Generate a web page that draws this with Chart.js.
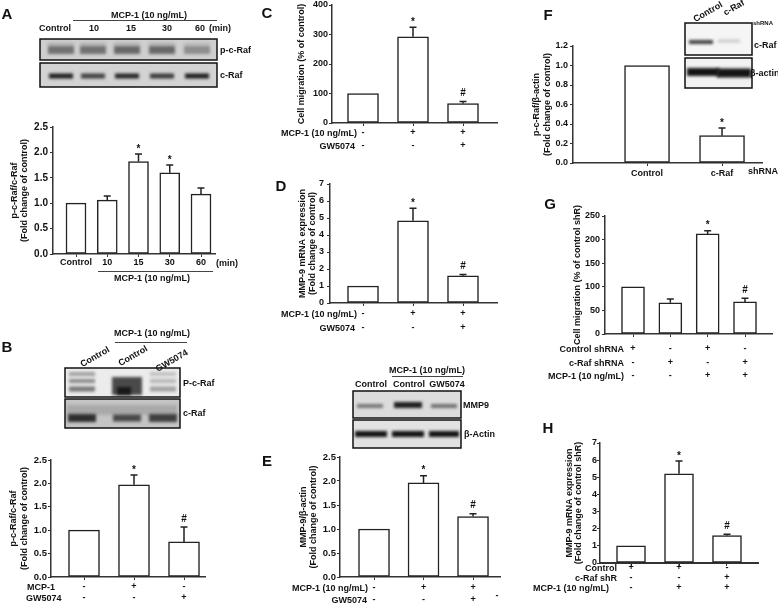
<!DOCTYPE html>
<html>
<head>
<meta charset="utf-8">
<script src="https://cdn.jsdelivr.net/npm/chart.js@4.4.1/dist/chart.umd.min.js"></script>
<style>
  html, body { margin: 0; padding: 0; background: #fff; }
  #fig { position: relative; width: 778px; height: 606px; overflow: hidden; }
  #fig canvas { position: absolute; }
  .lbl { position: absolute; white-space: nowrap; font-family: 'Liberation Sans', Arial, sans-serif;
         font-weight: bold; line-height: 1; color: #111; }
  .hl { position: absolute; height: 0; border-top: 1.5px solid #444; }
</style>
</head>
<body>
<div id="fig"></div>
<script>
// ---- data ----
const aLabels = ['Control', '10', '15', '30', '60'];
const aValues = [1.0, 1.06, 1.82, 1.60, 1.18];
const aErrors = [0, 0.08, 0.15, 0.15, 0.12];
const aMarks = ['', '', '*', '*', ''];

const bLabels = [['-', '-'], ['+', '-'], ['-', '+']];
const bValues = [1.0, 1.97, 0.75];
const bErrors = [0, 0.21, 0.32];
const bMarks = ['', '*', '#'];

const gwLabels = [['-', '-'], ['+', '-'], ['+', '+']];   // MCP-1 / GW5074 rows (C, D, E)

const cValues = [100, 292, 66];
const cErrors = [0, 33, 7];
const cMarks = ['', '*', '#'];

const dValues = [1.0, 4.84, 1.6];
const dErrors = [0, 0.74, 0.08];
const dMarks = ['', '*', '#'];

const eValues = [1.0, 1.96, 1.26];
const eErrors = [0, 0.15, 0.06];
const eMarks = ['', '*', '#'];

const fLabels = ['Control', 'c-Raf'];
const fValues = [1.0, 0.28];
const fErrors = [0, 0.08];
const fMarks = ['', '*'];

const gLabels = [['+', '-', '-'], ['-', '+', '-'], ['+', '-', '+'], ['-', '+', '+']];
const gValues = [100, 66, 212, 68];
const gErrors = [0, 8, 7, 8];
const gMarks = ['', '', '*', '#'];

const hLabels = [['+', '-', '-'], ['+', '-', '+'], ['-', '+', '+']];
const hValues = [1.0, 5.2, 1.6];
const hErrors = [0, 0.75, 0.08];
const hMarks = ['', '*', '#'];

const FONT = "'Liberation Sans', Arial, sans-serif";
Chart.defaults.font.family = FONT;
Chart.defaults.font.weight = 'bold';
Chart.defaults.color = '#111';

const fig = document.getElementById('fig');

// ---- little html helpers for the non-chart text ----
function label(text, x, y, opt = {}) {
    const d = document.createElement('div');
    d.className = 'lbl';
    d.textContent = text;
    d.style.left = x + 'px';
    d.style.top = y + 'px';
    d.style.fontSize = (opt.size || 9) + 'px';
    const ax = opt.align === 'right' ? '-100%' : opt.align === 'left' ? '0' : '-50%';
    d.style.transform = `translate(${ax}, -50%)` + (opt.rot ? ` rotate(${opt.rot}deg)` : '');
    fig.appendChild(d);
}
function hline(x1, x2, y) {
    const d = document.createElement('div');
    d.className = 'hl';
    d.style.left = x1 + 'px';
    d.style.top = y + 'px';
    d.style.width = (x2 - x1) + 'px';
    fig.appendChild(d);
}

// error bars (upper half only) + significance marks
const errorBars = {
    id: 'errorBars',
    afterDatasetsDraw(chart) {
        const ctx = chart.ctx;
        const ds = chart.data.datasets[0];
        const meta = chart.getDatasetMeta(0);
        const y = chart.scales.y;
        ctx.save();
        ctx.strokeStyle = '#222';
        ctx.lineWidth = 1.5;
        ctx.fillStyle = '#111';
        ctx.font = 'bold 10px ' + FONT;
        ctx.textAlign = 'center';
        ctx.textBaseline = 'middle';
        meta.data.forEach((bar, i) => {
            const v = ds.data[i].y, e = ds.errors[i];
            let top = y.getPixelForValue(v);
            if (e) {
                const ye = y.getPixelForValue(v + e);
                ctx.beginPath();
                ctx.moveTo(bar.x, top); ctx.lineTo(bar.x, ye);
                ctx.moveTo(bar.x - 3.5, ye); ctx.lineTo(bar.x + 3.5, ye);
                ctx.stroke();
                top = ye;
            }
            if (ds.marks[i]) ctx.fillText(ds.marks[i], bar.x, top - (ds.marks[i] === '*' ? 5 : 8));
        });
        ctx.restore();
    }
};

// box = canvas rect, plot = axis positions in page px
function panel(box, plot, cfg) {
    const c = document.createElement('canvas');
    c.width = box.w; c.height = box.h;
    c.style.left = box.l + 'px';
    c.style.top = box.t + 'px';
    fig.appendChild(c);
    const lh = cfg.titleLH;
    return new Chart(c, {
        type: 'bar',
        data: {
            datasets: [{
                data: cfg.values.map((v, i) => ({ x: i, y: v })),
                errors: cfg.errors,
                marks: cfg.marks,
                backgroundColor: '#fff',
                borderColor: '#222',
                borderWidth: 1.5,
                borderSkipped: false,
                barThickness: cfg.barW
            }]
        },
        options: {
            responsive: false, animation: false, events: [],
            layout: { padding: { left: 0, top: plot.yTop - box.t, right: box.l + box.w - plot.x1, bottom: 0 } },
            plugins: { legend: { display: false }, tooltip: { enabled: false } },
            scales: {
                x: {
                    type: 'linear', min: cfg.xMin, max: cfg.xMax, offset: false,
                    afterBuildTicks: s => { s.ticks = cfg.labels.map((_, i) => ({ value: i })); },
                    afterFit: s => { s.height = box.t + box.h - plot.yBot; s.paddingLeft = 0; s.paddingRight = 0; },
                    ticks: {
                        autoSkip: false, maxRotation: 0,
                        callback: v => cfg.labels[v],
                        font: { size: 9, lineHeight: cfg.rowLH + 'px' },
                        padding: cfg.rowPad
                    },
                    grid: { drawOnChartArea: false, offset: false, tickLength: 3, color: '#333' },
                    border: { color: '#333', width: cfg.xBorder || 1.5 }
                },
                y: {
                    min: 0, max: cfg.yMax,
                    afterFit: s => { s.width = plot.x0 - box.l; s.paddingTop = 0; s.paddingBottom = 0; },
                    ticks: { stepSize: cfg.step, callback: v => v.toFixed(cfg.dec), font: { size: cfg.tickSize || 9 }, padding: cfg.tickPad },
                    grid: { drawOnChartArea: false, tickLength: 3, color: '#333' },
                    border: { color: '#333', width: 1.5 },
                    title: {
                        display: true, text: cfg.title,
                        font: { size: 9, lineHeight: lh + 'px' },
                        padding: { top: cfg.titleX - box.l - lh / 2, bottom: 0 }
                    }
                }
            }
        },
        plugins: [errorBars]
    });
}

// ---- charts ----
panel({ l: 0, t: 112, w: 250, h: 178 }, { x0: 53, x1: 215, yTop: 127, yBot: 254 }, {
    labels: aLabels, values: aValues, errors: aErrors, marks: aMarks,
    xMin: -0.736, xMax: 4.448, barW: 20, yMax: 2.5, step: 0.5, dec: 1, tickPad: 2, tickSize: 10,
    title: ['p-c-Raf/c-Raf', '(Fold change of control)'], titleX: 15, titleLH: 10,
    rowLH: 11, rowPad: 0.5
});
panel({ l: 0, t: 446, w: 250, h: 160 }, { x0: 51, x1: 205, yTop: 460, yBot: 577 }, {
    labels: bLabels, values: bValues, errors: bErrors, marks: bMarks,
    xMin: -0.66, xMax: 2.42, barW: 31, yMax: 2.5, step: 0.5, dec: 1, tickPad: 1, tickSize: 9.5,
    title: ['p-c-Raf/c-Raf', '(Fold change of control)'], titleX: 14, titleLH: 11,
    rowLH: 11, rowPad: 1.5
});
panel({ l: 250, t: 0, w: 260, h: 156 }, { x0: 332, x1: 497, yTop: 5, yBot: 123 }, {
    labels: gwLabels, values: cValues, errors: cErrors, marks: cMarks,
    xMin: -0.62, xMax: 2.68, barW: 31, yMax: 400, step: 100, dec: 0, tickPad: 1,
    title: 'Cell migration (% of control)', titleX: 302, titleLH: 10,
    rowLH: 13, rowPad: 0.5
});
panel({ l: 250, t: 170, w: 260, h: 165 }, { x0: 330, x1: 497, yTop: 184, yBot: 303 }, {
    labels: gwLabels, values: dValues, errors: dErrors, marks: dMarks,
    xMin: -0.66, xMax: 2.68, barW: 31, yMax: 7, step: 1, dec: 0, tickPad: 3,
    title: ['MMP-9 mRNA expression', '(Fold change of control)'], titleX: 303, titleLH: 9.5,
    rowLH: 14, rowPad: 1
});
panel({ l: 250, t: 440, w: 260, h: 166 }, { x0: 340, x1: 500, yTop: 457, yBot: 577 }, {
    labels: gwLabels, values: eValues, errors: eErrors, marks: eMarks,
    xMin: -0.687, xMax: 2.545, barW: 31, yMax: 2.5, step: 0.5, dec: 1, tickPad: 1, tickSize: 9.5,
    title: ['MMP-9/\u03b2-actin', '(Fold change of control)'], titleX: 304, titleLH: 9.5,
    rowLH: 12, rowPad: 2
});
panel({ l: 510, t: 30, w: 268, h: 155 }, { x0: 573, x1: 762, yTop: 46, yBot: 163 }, {
    labels: fLabels, values: fValues, errors: fErrors, marks: fMarks,
    xMin: -0.987, xMax: 1.533, barW: 45, yMax: 1.2, step: 0.2, dec: 1, tickPad: 2,
    title: ['p-c-Raf/\u03b2-actin', '(Fold change of control)'], titleX: 537, titleLH: 11,
    rowLH: 11, rowPad: 2.5
});
panel({ l: 510, t: 200, w: 268, h: 185 }, { x0: 605, x1: 772, yTop: 216, yBot: 334 }, {
    labels: gLabels, values: gValues, errors: gErrors, marks: gMarks,
    xMin: -0.75, xMax: 3.723, barW: 23, yMax: 250, step: 50, dec: 0, tickPad: 2,
    title: 'Cell migration (% of control shR)', titleX: 578, titleLH: 10,
    rowLH: 13.5, rowPad: 5
});
panel({ l: 510, t: 430, w: 268, h: 176 }, { x0: 600, x1: 758, yTop: 443, yBot: 563 }, {
    labels: hLabels, values: hValues, errors: hErrors, marks: hMarks,
    xMin: -0.646, xMax: 2.646, barW: 29, yMax: 7, step: 1, dec: 0, tickPad: 0,
    title: ['MMP-9 mRNA expression', '(Fold change of control shR)'], titleX: 570, titleLH: 9,
    rowLH: 10, rowPad: -3, xBorder: 2
});

// ---- western blot insets (decoration) ----
const blots = [
    { x: 40, y: 39, w: 177, h: 21, bg: '#cfcfcf', bands: [
        [61, 50, 26, 8, .5], [93, 50, 26, 8, .5], [127, 50, 26, 8, .55], [162, 50, 26, 8, .55], [197, 50, 26, 8, .35],
        [61, 44, 26, 3, .15], [93, 44, 26, 3, .15], [127, 44, 26, 3, .15], [162, 44, 26, 3, .15], [197, 44, 26, 3, .1]] },
    { x: 40, y: 63, w: 177, h: 24, bg: '#d3d3d3', bands: [
        [61, 76, 24, 5, .95], [93, 76, 24, 5, .75], [127, 76, 24, 5, .9], [162, 76, 24, 5, .8], [197, 76, 24, 5, .95]] },
    { x: 65, y: 368, w: 115, h: 29, bg: '#ececec', bands: [
        [82, 374, 26, 4, .35], [82, 381, 26, 4, .45], [82, 389, 26, 5, .55],
        [127, 386, 30, 18, .75], [124, 391, 14, 8, .9],
        [163, 374, 26, 4, .2], [163, 381, 26, 4, .25], [163, 389, 26, 5, .35]] },
    { x: 65, y: 399, w: 115, h: 29, bg: '#c4c4c4', bands: [
        [122, 410, 110, 10, .15], [82, 418, 28, 8, .85], [127, 418, 28, 7, .7], [163, 418, 28, 8, .75]] },
    { x: 353, y: 391, w: 108, h: 27, bg: '#dcdcdc', bands: [
        [370, 406, 26, 4, .5], [408, 405, 28, 6, .95], [444, 406, 26, 4, .55]] },
    { x: 353, y: 420, w: 108, h: 28, bg: '#e2e2e2', bands: [
        [371, 434, 32, 6, 1], [408, 434, 32, 6, 1], [444, 434, 30, 6, 1]] },
    { x: 685, y: 23, w: 67, h: 32, bg: '#f5f5f5', bands: [
        [701, 42, 24, 4, .8], [729, 41, 22, 3, .2]] },
    { x: 685, y: 58, w: 67, h: 30, bg: '#f2f2f2', bands: [
        [703, 72, 32, 8, 1], [734, 73, 34, 9, 1]] }
];
const bc = document.createElement('canvas');
bc.width = 778; bc.height = 606;
bc.style.left = '0px'; bc.style.top = '0px';
fig.appendChild(bc);
const bctx = bc.getContext('2d');
blots.forEach(b => {
    bctx.save();
    bctx.fillStyle = b.bg;
    bctx.fillRect(b.x, b.y, b.w, b.h);
    bctx.beginPath(); bctx.rect(b.x, b.y, b.w, b.h); bctx.clip();
    bctx.filter = 'blur(1.5px)';
    b.bands.forEach(([cx, cy, w, h, a]) => {
        bctx.fillStyle = `rgba(20,20,20,${a})`;
        bctx.fillRect(cx - w / 2, cy - h / 2, w, h);
    });
    bctx.restore();
    bctx.strokeStyle = '#111';
    bctx.lineWidth = 1.5;
    bctx.strokeRect(b.x, b.y, b.w, b.h);
});

// ---- panel letters ----
[['A', 7, 13], ['B', 7, 346], ['C', 267, 12], ['D', 281, 185], ['E', 267, 460],
 ['F', 548, 14], ['G', 550, 203], ['H', 548, 427]].forEach(([t, x, y]) => label(t, x, y, { size: 15 }));

// A
label('MCP-1 (10 ng/mL)', 149, 15);
hline(73, 217, 20);
[['Control', 55], ['10', 94], ['15', 131], ['30', 167], ['60', 200], ['(min)', 220]].forEach(([t, x]) => label(t, x, 28));
label('p-c-Raf', 220, 50, { align: 'left' });
label('c-Raf', 220, 75, { align: 'left' });
label('(min)', 227, 263);
hline(98, 213, 271);
label('MCP-1 (10 ng/mL)', 152, 278);

// B
label('MCP-1 (10 ng/mL)', 152, 333);
hline(115, 187, 342);
label('Control', 95, 357, { rot: -30 });
label('Control', 133, 356, { rot: -30 });
label('GW5074', 172, 361, { rot: -30 });
label('P-c-Raf', 183, 383, { align: 'left' });
label('c-Raf', 183, 413, { align: 'left' });
label('MCP-1', 27, 587, { align: 'left' });
label('GW5074', 26, 598, { align: 'left' });

// C, D
label('MCP-1 (10 ng/mL)', 357, 133, { align: 'right' });
label('GW5074', 355, 146, { align: 'right' });
label('MCP-1 (10 ng/mL)', 357, 314, { align: 'right' });
label('GW5074', 355, 328, { align: 'right' });

// E
label('MCP-1 (10 ng/mL)', 427, 370);
hline(392, 463, 376);
label('Control', 371, 384);
label('Control', 409, 384);
label('GW5074', 447, 384);
label('MMP9', 463, 405, { align: 'left' });
label('\u03b2-Actin', 464, 434, { align: 'left' });
label('MCP-1 (10 ng/mL)', 368, 588, { align: 'right' });
label('GW5074', 367, 600, { align: 'right' });
label('-', 497, 595);

// F
label('Control', 708, 12, { rot: -30 });
label('c-Raf', 734, 8, { rot: -30 });
label('shRNA', 753, 23, { align: 'left', size: 6 });
label('c-Raf', 754, 45, { align: 'left' });
label('\u03b2-actin', 750, 73, { align: 'left' });
label('shRNA', 748, 171, { align: 'left' });

// G
label('Control shRNA', 624, 349, { align: 'right' });
label('c-Raf shRNA', 624, 363, { align: 'right' });
label('MCP-1 (10 ng/mL)', 624, 376, { align: 'right' });

// H
label('Control', 617, 568, { align: 'right' });
label('c-Raf shR', 617, 578, { align: 'right' });
label('MCP-1 (10 ng/mL)', 609, 588, { align: 'right' });
</script>
</body>
</html>
